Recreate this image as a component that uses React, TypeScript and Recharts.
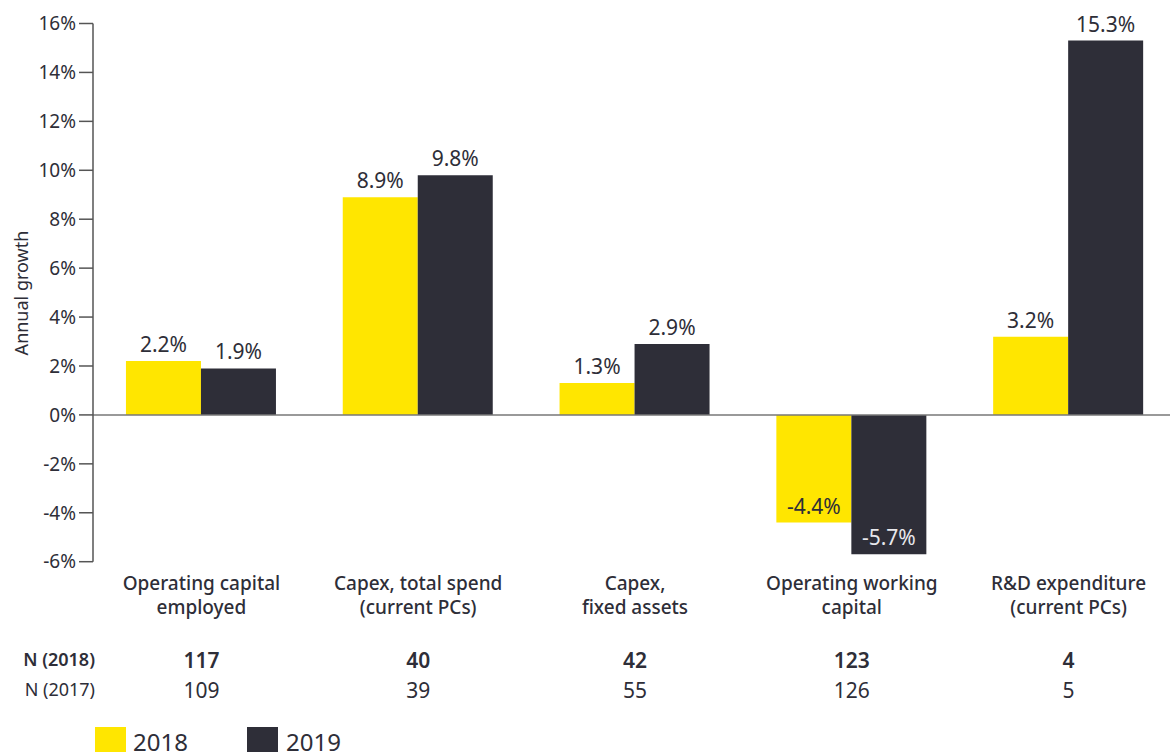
import React from 'react';
import { BarChart, Bar, XAxis, YAxis, ReferenceLine, LabelList } from 'recharts';

const FONT = '"Noto Sans", sans-serif';
const TEXT = '#2E2E38';
const YELLOW = '#FFE600';
const DARK = '#2E2E38';

const categories = [
  ['Operating capital', 'employed'],
  ['Capex, total spend', '(current PCs)'],
  ['Capex,', 'fixed assets'],
  ['Operating working', 'capital'],
  ['R&D expenditure', '(current PCs)'],
];
const growth2018 = [2.2, 8.9, 1.3, -4.4, 3.2];
const growth2019 = [1.9, 9.8, 2.9, -5.7, 15.3];
const n2018 = [117, 40, 42, 123, 4];
const n2017 = [109, 39, 55, 126, 5];
const yTicks = [-6, -4, -2, 0, 2, 4, 6, 8, 10, 12, 14, 16];

const data = categories.map((c, i) => ({
  name: c.join(' '),
  y2018: growth2018[i],
  y2019: growth2019[i],
}));

function CategoryTick(props: any) {
  const { x, index } = props;
  const lines = categories[index];
  return (
    <g fontFamily={FONT} fill={TEXT} textAnchor="middle">
      <text x={x} y={590} fontSize={19} fontWeight={500}>{lines[0]}</text>
      <text x={x} y={614} fontSize={19} fontWeight={500}>{lines[1]}</text>
      <text x={x} y={668} fontSize={21} fontWeight={600}>{n2018[index]}</text>
      <text x={x} y={698} fontSize={21}>{n2017[index]}</text>
      {index === 0 && (
        <>
          <text x={95} y={666} fontSize={18} fontWeight={600} textAnchor="end">N (2018)</text>
          <text x={95} y={696} fontSize={18} textAnchor="end">N (2017)</text>
        </>
      )}
    </g>
  );
}

function makeBarLabel(negColor: string) {
  return (props: any) => {
    const { x, y, width, height, value } = props;
    const top = Math.min(y, y + height);
    const bottom = Math.max(y, y + height);
    const cx = x + width / 2;
    const neg = value < 0;
    return (
      <text
        x={cx}
        y={neg ? bottom - 9 : top - 9}
        textAnchor="middle"
        fontFamily={FONT}
        fontSize={21}
        fill={neg ? negColor : TEXT}
      >
        {value.toFixed(1)}%
      </text>
    );
  };
}

export default function App() {
  return (
    <div style={{ position: 'fixed', left: 0, top: 0, width: 1170, height: 752, overflow: 'hidden', background: '#fff' }}>
      <BarChart
        width={1177}
        height={752}
        data={data}
        margin={{ top: 23.5, right: 0, bottom: 160.3, left: 0 }}
        barCategoryGap="15.2%"
        barGap={0}
      >
        <XAxis
          dataKey="name"
          height={30}
          axisLine={false}
          tickLine={false}
          interval={0}
          tick={<CategoryTick />}
        />
        <YAxis
          width={93}
          domain={[-6, 16]}
          ticks={yTicks}
          tickFormatter={(v) => `${v}%`}
          tickSize={14}
          tickMargin={3}
          axisLine={{ stroke: '#555', strokeWidth: 1.5 }}
          tickLine={{ stroke: '#555', strokeWidth: 1.5 }}
          tick={{ fill: TEXT, fontSize: 19, fontFamily: FONT }}
          label={{
            content: () => (
              <text
                transform="translate(28,293) rotate(-90)"
                textAnchor="middle"
                fontFamily={FONT}
                fontSize={18}
                fill={TEXT}
              >
                Annual growth
              </text>
            ),
          }}
        />
        <Bar dataKey="y2018" fill={YELLOW} isAnimationActive={false}>
          <LabelList dataKey="y2018" content={makeBarLabel(TEXT)} />
        </Bar>
        <Bar dataKey="y2019" fill={DARK} isAnimationActive={false}>
          <LabelList dataKey="y2019" content={makeBarLabel('#E8E8EC')} />
        </Bar>
        <ReferenceLine y={0} stroke="#777" strokeWidth={1.5} />
      </BarChart>
      <div style={{ position: 'absolute', left: 95, top: 725, display: 'flex', alignItems: 'center', fontFamily: FONT, fontSize: 24, color: TEXT }}>
        <span style={{ width: 31, height: 30, background: YELLOW, display: 'inline-block' }} />
        <span style={{ marginLeft: 7, width: 114 }}>2018</span>
        <span style={{ width: 31, height: 30, background: DARK, display: 'inline-block' }} />
        <span style={{ marginLeft: 8 }}>2019</span>
      </div>
    </div>
  );
}
